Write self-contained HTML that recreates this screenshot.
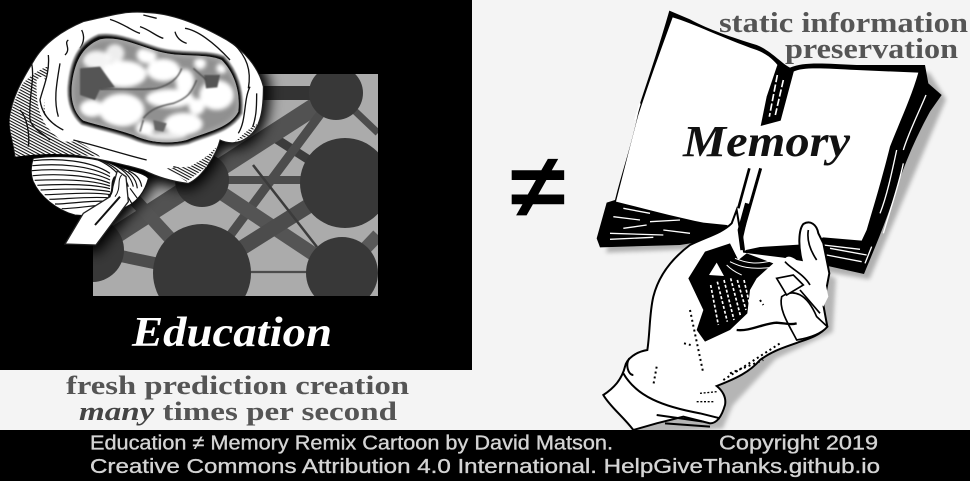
<!DOCTYPE html>
<html><head><meta charset="utf-8"><style>
html,body{margin:0;padding:0;background:#f4f4f4;width:970px;height:481px;overflow:hidden}
svg{display:block}
.s{font-family:"Liberation Serif",serif;font-weight:bold}
.f{font-family:"Liberation Sans",sans-serif;font-weight:normal;font-size:20px;fill:#d4d4d4;stroke:#d4d4d4;stroke-width:.35}
</style></head><body>
<svg width="970" height="481" viewBox="0 0 970 481" xmlns="http://www.w3.org/2000/svg">
<defs>
<filter id="b2" x="-30%" y="-30%" width="160%" height="160%"><feGaussianBlur stdDeviation="2.2"/></filter>
<filter id="b4" x="-30%" y="-30%" width="160%" height="160%"><feGaussianBlur stdDeviation="6"/></filter>
<filter id="b10" x="-30%" y="-30%" width="160%" height="160%"><feGaussianBlur stdDeviation="20"/></filter>
<pattern id="hatch" width="8" height="8" patternUnits="userSpaceOnUse" patternTransform="rotate(28)"><rect width="8" height="8" fill="#fff"/><rect width="8" height="3.2" fill="#111"/></pattern>
<clipPath id="net"><rect x="93" y="74" width="285" height="222"/></clipPath>
<clipPath id="inner"><path d="M215 260C222 190 245 140 300 118C360 105 430 145 490 158C550 172 620 160 665 180C700 215 722 270 715 335C690 385 620 395 560 420C500 435 440 425 400 405C340 385 290 375 250 362C222 340 212 300 215 260Z"/></clipPath>
</defs>
<rect width="970" height="481" fill="#f4f4f4"/>
<rect x="0" y="0" width="472" height="370" fill="#000"/>

<g clip-path="url(#net)">
<rect x="93" y="74" width="285" height="222" fill="#ababab"/>
<g stroke="#4c4c4c" fill="none">
<path d="M345 183L270 135" stroke-width="9" stroke="#3c3c3c"/>
<path d="M336 93L92 250" stroke-width="18" stroke="#525252"/>
<path d="M336 93L250 93" stroke-width="14" stroke="#333"/>
<path d="M336 93L202 273" stroke-width="9"/>
<path d="M336 93L378 133" stroke-width="7"/>
<path d="M202 180L345 180" stroke-width="8"/>
<path d="M202 180L342 273" stroke-width="14" stroke="#545454"/>
<path d="M133 198L202 273" stroke-width="13" stroke="#545454"/>
<path d="M92 250L202 273" stroke-width="12"/>
<path d="M202 273L345 183" stroke-width="15"/>
<path d="M202 272L342 272" stroke-width="2.2"/>
<path d="M253 165L317 247" stroke-width="2.5" stroke="#3c3c3c"/>
<path d="M342 273L378 235" stroke-width="13" stroke="#595959"/>
</g>
<g fill="#383838">
<circle cx="336" cy="93" r="27"/>
<circle cx="345" cy="183" r="45"/>
<circle cx="342" cy="273" r="36"/>
<circle cx="202" cy="273" r="49"/>
<circle cx="202" cy="180" r="27"/>
<circle cx="92" cy="250" r="32"/>
</g>
</g>

<g transform="scale(.33333)">
<g filter="url(#b10)" fill="#000" stroke="#000" stroke-width="40">
<path d="M30 350C35 300 60 250 100 185C130 130 190 90 250 65C320 50 380 30 440 38C520 40 610 80 680 120C730 150 775 200 790 260C790 320 785 380 745 410C715 435 680 430 660 420C650 460 610 530 565 550C520 545 470 530 430 510L445 535C430 590 385 610 285 738L195 732L240 650C170 630 100 570 92 480L45 470C40 420 25 390 30 350Z"/>
</g>
<path fill="#fff" stroke="#111" stroke-width="3" d="M100 475C150 468 260 465 330 490C370 510 430 515 445 535C430 590 400 610 380 620C340 640 290 650 225 645C170 630 120 590 100 545C92 525 92 500 100 475Z"/>
<g fill="none" stroke="#111" stroke-width="3.6">
<path d="M100 482C170 474 270 480 330 520"/><path d="M97 497C170 490 270 495 330 530"/><path d="M95 512C170 505 270 510 330 540"/><path d="M98 527C170 520 270 525 330 550"/><path d="M104 541C170 538 270 538 330 558"/><path d="M112 556C170 553 270 550 330 566"/><path d="M122 570C175 568 270 563 330 575"/><path d="M134 584C180 584 270 574 332 584"/><path d="M148 598C190 598 270 588 334 594"/><path d="M165 612C210 612 270 600 335 604"/><path d="M185 626C225 626 280 616 338 612"/>
<path d="M290 478C330 495 360 520 372 555"/><path d="M310 484C345 500 375 525 385 560"/><path d="M335 492C365 505 392 525 400 560"/><path d="M360 503C385 515 408 530 412 565"/><path d="M385 512C405 522 422 535 425 560"/><path d="M375 575L395 610M390 565L412 595"/>
</g>
<path fill="#fff" stroke="#222" stroke-width="4" d="M352 512L378 530L385 605L288 735L195 732L250 640L330 590Z"/>
<g fill="none" stroke="#111" stroke-width="6">
<path d="M360 590L285 675M345 530C330 550 345 575 325 590"/><path d="M365 525C350 540 365 565 345 590" stroke-width="3"/>
</g>
<path fill="#fff" stroke="#222" stroke-width="3" d="M30 350C35 300 60 250 100 185C130 130 190 90 250 65C320 50 380 30 440 38C520 40 610 80 680 120C730 150 775 200 790 260C790 320 785 380 745 410C715 435 680 430 660 420C650 460 610 530 565 550C520 545 470 530 430 510C360 490 270 470 190 460C140 455 90 460 45 470C40 420 25 390 30 350Z"/>
<path fill="url(#hatch)" d="M30 350C35 320 50 290 65 255C85 230 130 200 145 200C130 260 125 340 150 385C200 410 260 430 300 470C230 465 160 455 47 470C40 420 25 390 30 350Z"/>
<path fill="#fff" d="M110 240C130 220 140 230 135 270L130 340C150 370 190 395 240 425L190 425C140 390 105 350 110 240Z"/>
<g fill="none" stroke="#111" stroke-width="4">
<path d="M330 58C370 70 400 95 420 100"/><path d="M420 80C450 90 470 110 490 115"/><path d="M430 45L470 55"/><path d="M525 95C530 115 545 125 560 130"/><path d="M555 85C590 90 640 125 690 180"/><path d="M245 90C255 110 250 130 240 145"/><path d="M205 120C190 130 215 145 195 165"/><path d="M145 165C150 220 130 260 120 300C125 340 150 370 190 390"/>
<path d="M95 190C105 240 85 290 90 360C100 390 130 400 150 420"/><path d="M180 190C170 250 160 300 175 350"/><path d="M750 260C730 300 740 360 715 400"/><path d="M770 280C770 320 770 360 750 400"/><path d="M520 500C550 510 590 510 620 470"/><path d="M220 420C300 440 360 460 440 480"/><path d="M60 330C80 350 90 400 85 440"/><path d="M700 130C740 170 755 210 745 265"/>
</g>
<path fill="url(#hatch)" d="M500 505L560 545L620 500L650 440L620 470L570 500Z"/>
<path fill="url(#hatch)" d="M705 425L745 408L775 370L750 385Z"/>
<path fill="#111" stroke="#888" stroke-width="5" filter="url(#b2)" d="M205 260C212 180 235 130 295 105C360 95 430 135 490 148C550 162 625 150 672 170C710 210 732 270 725 340C695 395 625 405 565 430C500 445 440 435 395 415C340 395 285 385 245 372C215 345 202 305 205 260Z"/>
<g clip-path="url(#inner)">
<rect x="200" y="100" width="540" height="340" fill="#909090"/>
<g fill="#fff" filter="url(#b4)">
<ellipse cx="290" cy="180" rx="42" ry="28" opacity=".9"/><circle cx="345" cy="160" r="28" opacity=".85"/><ellipse cx="370" cy="222" rx="70" ry="40"/><ellipse cx="490" cy="210" rx="50" ry="34"/><ellipse cx="440" cy="165" rx="30" ry="25"/><ellipse cx="650" cy="285" rx="52" ry="45"/><circle cx="600" cy="190" r="18"/><circle cx="665" cy="205" r="16"/><ellipse cx="275" cy="325" rx="36" ry="26"/><ellipse cx="365" cy="330" rx="68" ry="50"/><ellipse cx="510" cy="295" rx="72" ry="28"/><ellipse cx="550" cy="372" rx="58" ry="34"/><ellipse cx="555" cy="245" rx="28" ry="38"/><circle cx="590" cy="320" r="24"/><ellipse cx="435" cy="385" rx="28" ry="22"/><ellipse cx="500" cy="410" rx="60" ry="14" opacity=".8"/>
</g>
<path d="M240 205L300 200L345 262L300 268L285 300L240 285Z" fill="#555" filter="url(#b2)"/>
<path d="M612 225L660 225L652 262L618 265Z" fill="#555" filter="url(#b2)"/>
<path d="M460 360L500 370L490 395L465 390Z" fill="#666" filter="url(#b2)"/>
<g fill="none" stroke="#4a4a4a" stroke-width="4" filter="url(#b2)">
<path d="M300 268C360 265 420 272 470 265C510 255 535 235 545 205"/>
<path d="M430 355C450 330 470 320 520 310C560 295 575 280 590 240"/>
<path d="M580 205L620 240M430 360L420 395"/>
</g>
<path fill="none" stroke="#aaa" stroke-width="12" filter="url(#b4)" d="M215 260C222 190 245 140 300 118C360 105 430 145 490 158C550 172 620 160 665 180C700 215 722 270 715 335C690 385 620 395 560 420C500 435 440 425 400 405C340 385 290 375 250 362C222 340 212 300 215 260Z"/>
</g>
</g>
<text class="s" x="132" y="346" font-style="italic" font-size="42" fill="#fff" textLength="200" lengthAdjust="spacingAndGlyphs">Education</text>
<text class="s" x="66" y="394" font-size="26" fill="#555" textLength="343" lengthAdjust="spacingAndGlyphs">fresh prediction creation</text>
<text class="s" x="79" y="420" font-size="26" fill="#555" textLength="318" lengthAdjust="spacingAndGlyphs"><tspan font-style="italic" fill="#444">many</tspan> times per second</text>

<text transform="translate(538,217) scale(1.12,1)" font-family="'Liberation Sans',sans-serif" font-size="90" font-weight="bold" text-anchor="middle" fill="#000">≠</text>

<g>
<g transform="translate(596,6) scale(.33333)" fill="#777" filter="url(#b4)" opacity=".55">
<path d="M240 35L600 210L1000 200L1050 280L820 820L470 760L270 730L30 740Z"/>
</g>
<g transform="translate(590,0) scale(.33333)">
<path fill="#000" d="M238 32L300 58C360 90 420 110 500 135C540 150 575 190 600 203C640 185 700 190 800 195L1005 195L1015 250L1055 285L1020 335C990 390 950 470 915 580C890 660 860 730 822 822L700 795L470 770L460 705L270 735L30 742L20 715L50 608L75 600C100 500 130 420 150 310C180 220 210 130 238 32Z"/>
<path fill="#fff" d="M248 52C310 70 400 115 500 150C540 165 560 190 572 208L610 215C640 200 700 205 800 210L985 218C965 290 925 375 900 440C880 520 860 590 830 690L815 722L700 712L640 733L510 741L459 752L445 690L410 675L340 668C250 650 160 625 78 605C100 520 125 420 145 345L160 300C190 210 220 130 248 52Z"/>
<g>
<path fill="#000" d="M562 195L612 212L572 362L512 378L530 290Z"/>
<path fill="none" stroke="#fff" stroke-width="5" stroke-dasharray="22 7" d="M562 225L538 350M580 240L556 345"/>
</g>
<g fill="none" stroke="#000">
<path stroke-width="8" d="M478 505L445 625"/>
<path stroke-width="9" d="M512 505L482 610L462 680"/>
<path stroke-width="14" d="M462 670L445 745"/>
</g>
<g fill="none" stroke="#fff" stroke-width="4">
<path d="M100 625L180 640M70 650L150 660M180 665L270 660M60 700L220 705M100 685L170 675M220 690L300 700M60 718L190 712" />
<path d="M1008 285C985 340 955 400 940 450M920 450C905 520 890 590 870 640M940 490C925 560 900 630 880 700M845 740L825 790" />
<path d="M150 310L135 360" stroke-width="5"/>
<path d="M720 745L830 765M710 765L815 785M700 735L810 748" />
</g>
</g>
<g transform="translate(590,210) scale(.33333)">
<path filter="url(#b4)" fill="#777" opacity=".5" transform="translate(18,16)" d="M40 555L100 480L170 420L185 260L300 90L640 150L720 190L710 350L540 430L410 570L380 640L130 660Z"/>
<path fill="#fff" stroke="#000" stroke-width="6" d="M40 555C70 535 95 510 105 470C110 445 140 425 172 420C180 370 178 310 190 260C205 200 240 150 300 105C350 80 395 70 425 40L440 0L450 60L462 125L580 140L635 150C625 110 625 60 640 42C660 30 680 42 685 70L700 100L718 190L700 285L712 350C690 375 660 385 630 395C590 410 550 420 510 450C480 485 440 505 380 528C395 540 410 560 405 585C395 620 380 640 360 640L280 620L200 640L130 660C100 620 60 590 40 555Z"/>
<path fill="none" stroke="#000" stroke-width="14" d="M472 -20L450 60L458 120"/>
<path fill="#000" d="M345 125L420 100L445 150L470 130L550 160L500 205L480 240L472 310L420 360L345 395L320 360L340 300L295 205Z"/>
<path fill="#fff" d="M380 158L402 198L357 195Z"/>
<g fill="none" stroke="#fff" stroke-width="5" stroke-dasharray="9 6">
<path d="M362 225L385 345M382 215L412 335M402 210L432 330M422 205L452 320M442 210L468 300M462 210L478 280"/>
<path stroke-dasharray="none" stroke-width="3" d="M420 155C450 170 480 180 545 172M435 145C470 160 500 165 555 150M410 165C430 185 445 190 455 195"/>
</g>
<g fill="#fff" stroke="#000" stroke-width="5">
<path d="M585 145C600 130 620 150 650 175L700 190L715 260L700 290L670 250L600 210Z" stroke="none"/>
<path d="M575 260C610 235 650 250 680 320L712 350C690 375 650 385 620 390C600 350 565 300 575 260Z"/>
<path d="M560 205L610 195L640 225L590 255Z"/>
<path fill="none" d="M585 155C600 175 640 190 660 225M630 240L690 310M655 60C650 90 660 120 680 150"/>
</g>
<path fill="none" stroke="#000" stroke-width="7" d="M440 360C480 365 520 340 560 338C590 340 600 345 620 340"/>
<g fill="none" stroke="#000" stroke-width="6" stroke-dasharray="6 9">
<path d="M300 300L340 490M282 400L302 405M200 470L190 525M400 510L570 400M420 490L520 450M510 270L520 285"/>
</g>
<path fill="none" stroke="#000" stroke-width="6" d="M118 445C105 465 115 495 130 495M100 490C140 560 220 590 330 610L390 625M200 615L340 635M225 640L360 650"/>
<path fill="none" stroke="#000" stroke-width="4" stroke-dasharray="6 5" d="M320 575L370 575M330 550L380 545"/>
</g>
</g>
<text class="s" x="683" y="156" font-style="italic" font-size="44" fill="#111" textLength="167" lengthAdjust="spacingAndGlyphs">Memory</text>
<text class="s" x="719" y="32" font-size="28" fill="#555" textLength="249" lengthAdjust="spacingAndGlyphs">static information</text>
<text class="s" x="785" y="58" font-size="28" fill="#555" textLength="173" lengthAdjust="spacingAndGlyphs">preservation</text>

<rect x="0" y="430" width="970" height="51" fill="#000"/>
<text class="f" x="90" y="449.5" textLength="523" lengthAdjust="spacingAndGlyphs">Education ≠ Memory Remix Cartoon by David Matson.</text>
<text class="f" x="719" y="449.5" textLength="159" lengthAdjust="spacingAndGlyphs">Copyright 2019</text>
<text class="f" x="90" y="473" textLength="790" lengthAdjust="spacingAndGlyphs">Creative Commons Attribution 4.0 International. HelpGiveThanks.github.io</text>
</svg>
</body></html>
